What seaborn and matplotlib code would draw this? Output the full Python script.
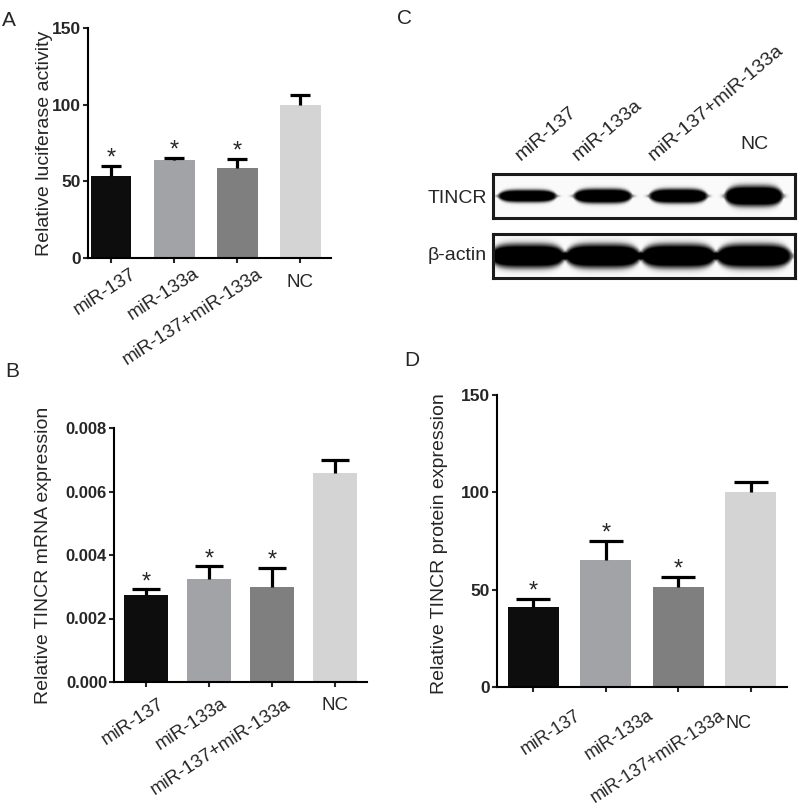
import numpy as np
import pandas as pd
import seaborn as sns
import matplotlib
matplotlib.use("Agg")
import matplotlib.pyplot as plt
from matplotlib.transforms import ScaledTranslation
from matplotlib.ticker import FormatStrFormatter

# ---------------- data ----------------
groups = ["miR-137", "miR-133a", "miR-137+miR-133a", "NC"]
bar_colors = ["#0d0d0d", "#a2a3a7", "#7f7f7f", "#d4d4d4"]
signif = [True, True, True, False]

luc_mean = [53.5, 63.7, 58.9, 100.0]
luc_err = [6.7, 1.7, 5.9, 6.5]

mrna_mean = [0.00274, 0.00325, 0.00300, 0.00657]
mrna_err = [0.00019, 0.00041, 0.00060, 0.00042]

prot_mean = [40.9, 65.2, 51.5, 100.0]
prot_err = [4.5, 10.0, 5.2, 5.5]

# western blot band densities (relative)
tincr_density = [0.6, 0.7, 0.7, 1.0]
actin_density = [1.0, 1.0, 1.0, 1.0]

sns.set_style("white")
plt.rcParams["font.family"] = ["Liberation Sans", "DejaVu Sans"]

W, H = 800, 809
fig = plt.figure(figsize=(W / 100, H / 100), dpi=100)


def px_axes(l, t, r, b):
    return fig.add_axes([l / W, 1 - b / H, (r - l) / W, (b - t) / H])


def off(ax, dx, dy):
    return ax.get_xaxis_transform() + ScaledTranslation(dx / 100, -dy / 100, fig.dpi_scale_trans)


def bar_panel(ax, means, errs, ylim, yticks, xlim, width, cap, ylabel, lab_xy,
              rot_dx, rot_dy, nc_dx, nc_dy, tick_fs=12.5, lab_fs=13.5, fmt=None):
    df = pd.DataFrame({"group": groups, "value": means})
    sns.barplot(data=df, x="group", y="value", hue="group", palette=bar_colors,
                saturation=1, width=width, legend=False, linewidth=0, ax=ax)
    eb = ax.errorbar(range(len(groups)), means, yerr=[np.zeros(len(errs)), errs], fmt="none",
                     ecolor="black", elinewidth=2.3, capsize=cap, capthick=2.3, zorder=1)
    eb[1][0].set_visible(False)  # only the upper cap
    for i, s in enumerate(signif):
        if s:
            ax.annotate("*", (i, means[i] + errs[i]), xytext=(0, 0.5), textcoords="offset points",
                        ha="center", va="baseline", fontsize=17)
    ax.set_xlim(*xlim)
    ax.set_ylim(*ylim)
    ax.set_yticks(yticks)
    if fmt:
        ax.yaxis.set_major_formatter(FormatStrFormatter(fmt))
    for sp in ["top", "right"]:
        ax.spines[sp].set_visible(False)
    for sp in ["left", "bottom"]:
        ax.spines[sp].set_linewidth(1.5)
        ax.spines[sp].set_color("black")
    ax.tick_params(axis="y", direction="out", length=3.5, width=1.5, pad=1.5,
                   labelsize=tick_fs, left=True)
    ax.tick_params(axis="x", direction="out", length=3.5, width=1.5, bottom=True)
    for lab in ax.get_yticklabels():
        lab.set_fontweight("bold")
    ax.set_xticks(range(len(groups)))
    ax.set_xticklabels([])
    ax.set_xlabel("")
    for i, g in enumerate(groups):
        if g == "NC":
            ax.text(i, 0, g, transform=off(ax, nc_dx, nc_dy), ha="center", va="top", fontsize=lab_fs)
        else:
            ax.text(i, 0, g, transform=off(ax, rot_dx, rot_dy), ha="right", va="top",
                    rotation=33, rotation_mode="anchor", fontsize=lab_fs)
    ax.set_ylabel(ylabel, fontsize=14)
    ax.yaxis.set_label_coords(*lab_xy)


# ---------------- A ----------------
axA = px_axes(88, 28, 331, 258)
bar_panel(axA, luc_mean, luc_err, (0, 150), [0, 50, 100, 150], (-0.365, 3.49), 0.65, 7,
          "Relative luciferase activity", (-0.144, 0.5), 19, 7, 0, 16)

# ---------------- B ----------------
axB = px_axes(114, 428, 367, 682)
bar_panel(axB, mrna_mean, mrna_err, (0, 0.008), [0, 0.002, 0.004, 0.006, 0.008], (-0.51, 3.51), 0.7, 10,
          "Relative TINCR mRNA expression", (-0.245, 0.5), 12, 13, 0, 15, tick_fs=12, fmt="%.3f")

# ---------------- D ----------------
axD = px_axes(497, 395, 787, 687)
bar_panel(axD, prot_mean, prot_err, (0, 150), [0, 50, 100, 150], (-0.5, 3.5), 0.7, 12,
          "Relative TINCR protein expression", (-0.169, 0.49), 41, 20, -12, 28, lab_fs=13)

# ---------------- C (western blot) ----------------
def blot(ax, dens, hw, hh_scale):
    xs = np.linspace(-0.45, 3.54, 400)
    ys = np.linspace(-1, 1, 80)
    X, Y = np.meshgrid(xs, ys)
    field = np.zeros_like(X)
    for i, d in enumerate(dens):
        hh = hh_scale * d
        dx = (X - i) / hw
        # band gets thinner towards its ends
        taper = np.sqrt(np.clip(1 - np.abs(dx) ** 4, 0.05, 1))
        field += np.exp(-np.abs(dx) ** 8) * np.exp(-np.abs(Y / (hh * taper)) ** 3)
    img = 0.04 + 0.96 * np.clip(field * 1.4, 0, 1)
    ax.imshow(img, extent=(-0.45, 3.54, -1, 1), cmap="Greys", vmin=0, vmax=1,
              aspect="auto", origin="lower", interpolation="bilinear")
    ax.set_xlim(-0.45, 3.54)
    ax.set_ylim(-1, 1)
    ax.set_xticks([])
    ax.set_yticks([])
    for sp in ax.spines.values():
        sp.set_visible(True)
        sp.set_linewidth(2.2)
        sp.set_color("#1a1a1a")


axC1 = px_axes(493, 174, 795, 218)
blot(axC1, tincr_density, 0.40, 0.5)
axC2 = px_axes(493, 234, 795, 278)
blot(axC2, actin_density, 0.52, 0.58)

axC1.text(-0.02, 0.45, "TINCR", transform=axC1.transAxes, ha="right", va="center", fontsize=14)
axC2.text(-0.02, 0.5, "β-actin", transform=axC2.transAxes, ha="right", va="center", fontsize=14)

lane_dx = [-0.09, -0.33, -0.33]
for i, g in enumerate(groups):
    tr = axC1.get_xaxis_transform()
    if g == "NC":
        axC1.text(i, 1.68, g, transform=tr, ha="center", va="center", fontsize=14)
    else:
        axC1.text(i + lane_dx[i], 1.3, g, transform=tr, ha="left", va="baseline",
                  rotation=40, rotation_mode="anchor", fontsize=14)

# panel letters
for letter, x, y in [("A", 9, 20), ("C", 405, 18), ("B", 12, 371), ("D", 412, 361)]:
    fig.text(x / W, 1 - y / H, letter, ha="center", va="center", fontsize=15)

fig.savefig("out.png", dpi=100)
